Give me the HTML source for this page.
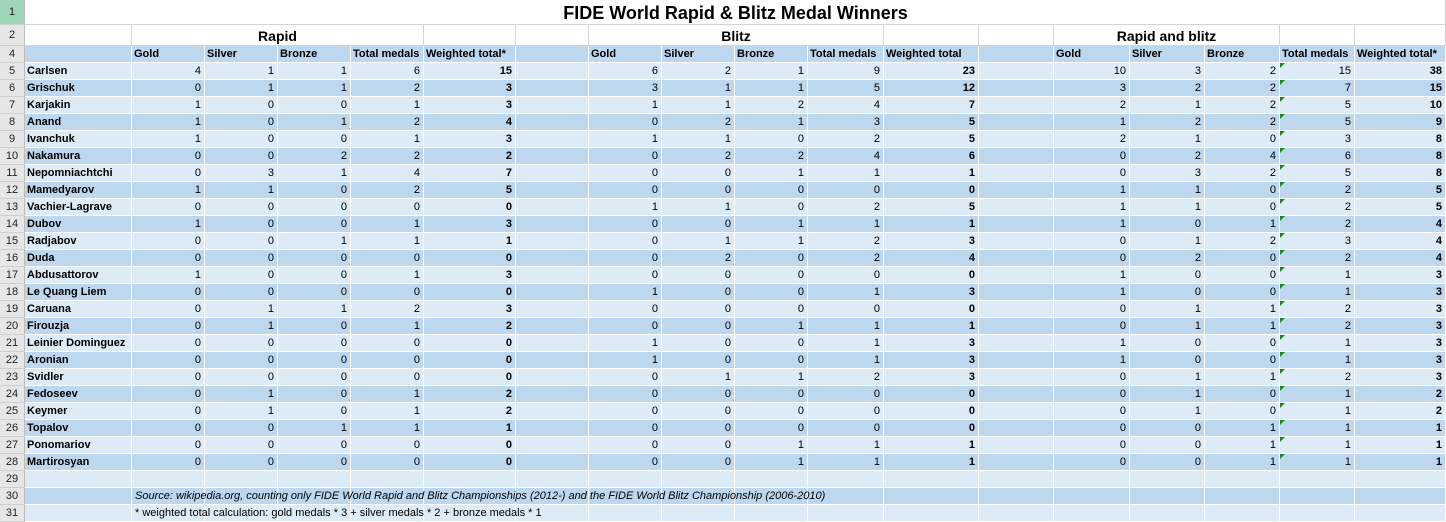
<!DOCTYPE html>
<html><head><meta charset="utf-8"><style>
body{margin:0;width:1446px;height:522px;overflow:hidden;background:#fff;font-family:"Liberation Sans",sans-serif;font-size:11px;color:#000;position:relative}
.c{position:absolute;box-sizing:border-box;white-space:nowrap;overflow:visible;line-height:16px;padding:0 3px}
.rh{position:absolute;left:0;width:25px;background:#e6e6e6;border-right:1px solid #bdbdbd;border-bottom:1px solid #cfcfcf;box-sizing:border-box;text-align:center;font-size:11px;line-height:16px;color:#222}
.tri{position:absolute;width:0;height:0;border-top:5px solid #1a8a1a;border-right:5px solid transparent}
</style></head><body>
<div id="g"></div>
<script>
var X=[25,132,205,278,351,424,516,589,662,735,808,884,979,1054,1130,1205,1280,1355,1446];
var rows=[
["Carlsen",4,1,1,6,15,6,2,1,9,23,10,3,2,15,38],
["Grischuk",0,1,1,2,3,3,1,1,5,12,3,2,2,7,15],
["Karjakin",1,0,0,1,3,1,1,2,4,7,2,1,2,5,10],
["Anand",1,0,1,2,4,0,2,1,3,5,1,2,2,5,9],
["Ivanchuk",1,0,0,1,3,1,1,0,2,5,2,1,0,3,8],
["Nakamura",0,0,2,2,2,0,2,2,4,6,0,2,4,6,8],
["Nepomniachtchi",0,3,1,4,7,0,0,1,1,1,0,3,2,5,8],
["Mamedyarov",1,1,0,2,5,0,0,0,0,0,1,1,0,2,5],
["Vachier-Lagrave",0,0,0,0,0,1,1,0,2,5,1,1,0,2,5],
["Dubov",1,0,0,1,3,0,0,1,1,1,1,0,1,2,4],
["Radjabov",0,0,1,1,1,0,1,1,2,3,0,1,2,3,4],
["Duda",0,0,0,0,0,0,2,0,2,4,0,2,0,2,4],
["Abdusattorov",1,0,0,1,3,0,0,0,0,0,1,0,0,1,3],
["Le Quang Liem",0,0,0,0,0,1,0,0,1,3,1,0,0,1,3],
["Caruana",0,1,1,2,3,0,0,0,0,0,0,1,1,2,3],
["Firouzja",0,1,0,1,2,0,0,1,1,1,0,1,1,2,3],
["Leinier Dominguez",0,0,0,0,0,1,0,0,1,3,1,0,0,1,3],
["Aronian",0,0,0,0,0,1,0,0,1,3,1,0,0,1,3],
["Svidler",0,0,0,0,0,0,1,1,2,3,0,1,1,2,3],
["Fedoseev",0,1,0,1,2,0,0,0,0,0,0,1,0,1,2],
["Keymer",0,1,0,1,2,0,0,0,0,0,0,1,0,1,2],
["Topalov",0,0,1,1,1,0,0,0,0,0,0,0,1,1,1],
["Ponomariov",0,0,0,0,0,0,0,1,1,1,0,0,1,1,1],
["Martirosyan",0,0,0,0,0,0,0,1,1,1,0,0,1,1,1]];
var L="#ddebf7",D="#bdd7ee",h="";
function cell(x1,x2,y,hgt,bg,txt,st,bc){h+='<div class="c" style="left:'+x1+'px;top:'+y+'px;width:'+(x2-x1)+'px;height:'+hgt+'px;background:'+bg+';border-right:1px solid '+bc+';border-bottom:1px solid '+bc+';'+(st||'')+'">'+(txt===undefined?'':txt)+'</div>';}
function rh(n,y,hgt,bg){h+='<div class="rh" style="top:'+y+'px;height:'+hgt+'px;line-height:'+hgt+'px;'+(bg?'background:'+bg+';':'')+'">'+n+'</div>';}
// row 1
rh(1,0,25,"#9fd5b7");cell(25,1446,0,25,"#fff","","","#d4d4d4");
h+='<div class="c" style="left:25px;top:3px;width:1421px;text-align:center;font-size:18px;font-weight:bold;line-height:20px">FIDE World Rapid &amp; Blitz Medal Winners</div>';
// row 2
rh(2,25,21);
var merges=[[25,132,""],[132,424,"Rapid"],[424,516,""],[516,589,""],[589,884,"Blitz"],[884,979,""],[979,1054,""],[1054,1280,"Rapid and blitz"],[1280,1355,""],[1355,1446,""]];
merges.forEach(function(m){cell(m[0],m[1],25,21,"#fff",m[2],"text-align:center;font-weight:bold;font-size:14px;line-height:22px","#d4d4d4");});
// row 4
rh(4,46,17);
var hd=["","Gold","Silver","Bronze","Total medals","Weighted total*","","Gold","Silver","Bronze","Total medals","Weighted total","","Gold","Silver","Bronze","Total medals","Weighted total*"];
for(var i=0;i<18;i++)cell(X[i],X[i+1],46,17,D,hd[i],"font-weight:bold;padding-left:2px","#fff");
var y=63;
rows.forEach(function(r,k){var bg=k%2?D:L;rh(k+5,y,17);
 var v=[r[0],r[1],r[2],r[3],r[4],r[5],"",r[6],r[7],r[8],r[9],r[10],"",r[11],r[12],r[13],r[14],r[15]];
 for(var i=0;i<18;i++){var st=i==0?"font-weight:bold;padding-left:2px":"text-align:right;padding-right:3px"+((i==5||i==11||i==17)?";font-weight:bold":"");cell(X[i],X[i+1],y,17,bg,v[i],st,"#fff");}
 h+='<div class="tri" style="left:1280px;top:'+y+'px"></div>';
 y+=17;});
// rows 29-31
[[29,L,""],[30,D,"<i>Source: wikipedia.org, counting only FIDE World Rapid and Blitz Championships (2012-) and the FIDE World Blitz Championship (2006-2010)</i>"],[31,L,"* weighted total calculation: gold medals * 3 + silver medals * 2 + bronze medals * 1"]].forEach(function(r){
 rh(r[0],y,17);
 for(var i=0;i<18;i++)cell(X[i],X[i+1],y,17,r[1],"","","#fff");
 if(r[2])h+='<div class="c" style="left:132px;top:'+y+'px;line-height:17px;padding-left:3px">'+r[2]+'</div>';
 y+=17;});
document.getElementById("g").innerHTML=h;
</script>
</body></html>
